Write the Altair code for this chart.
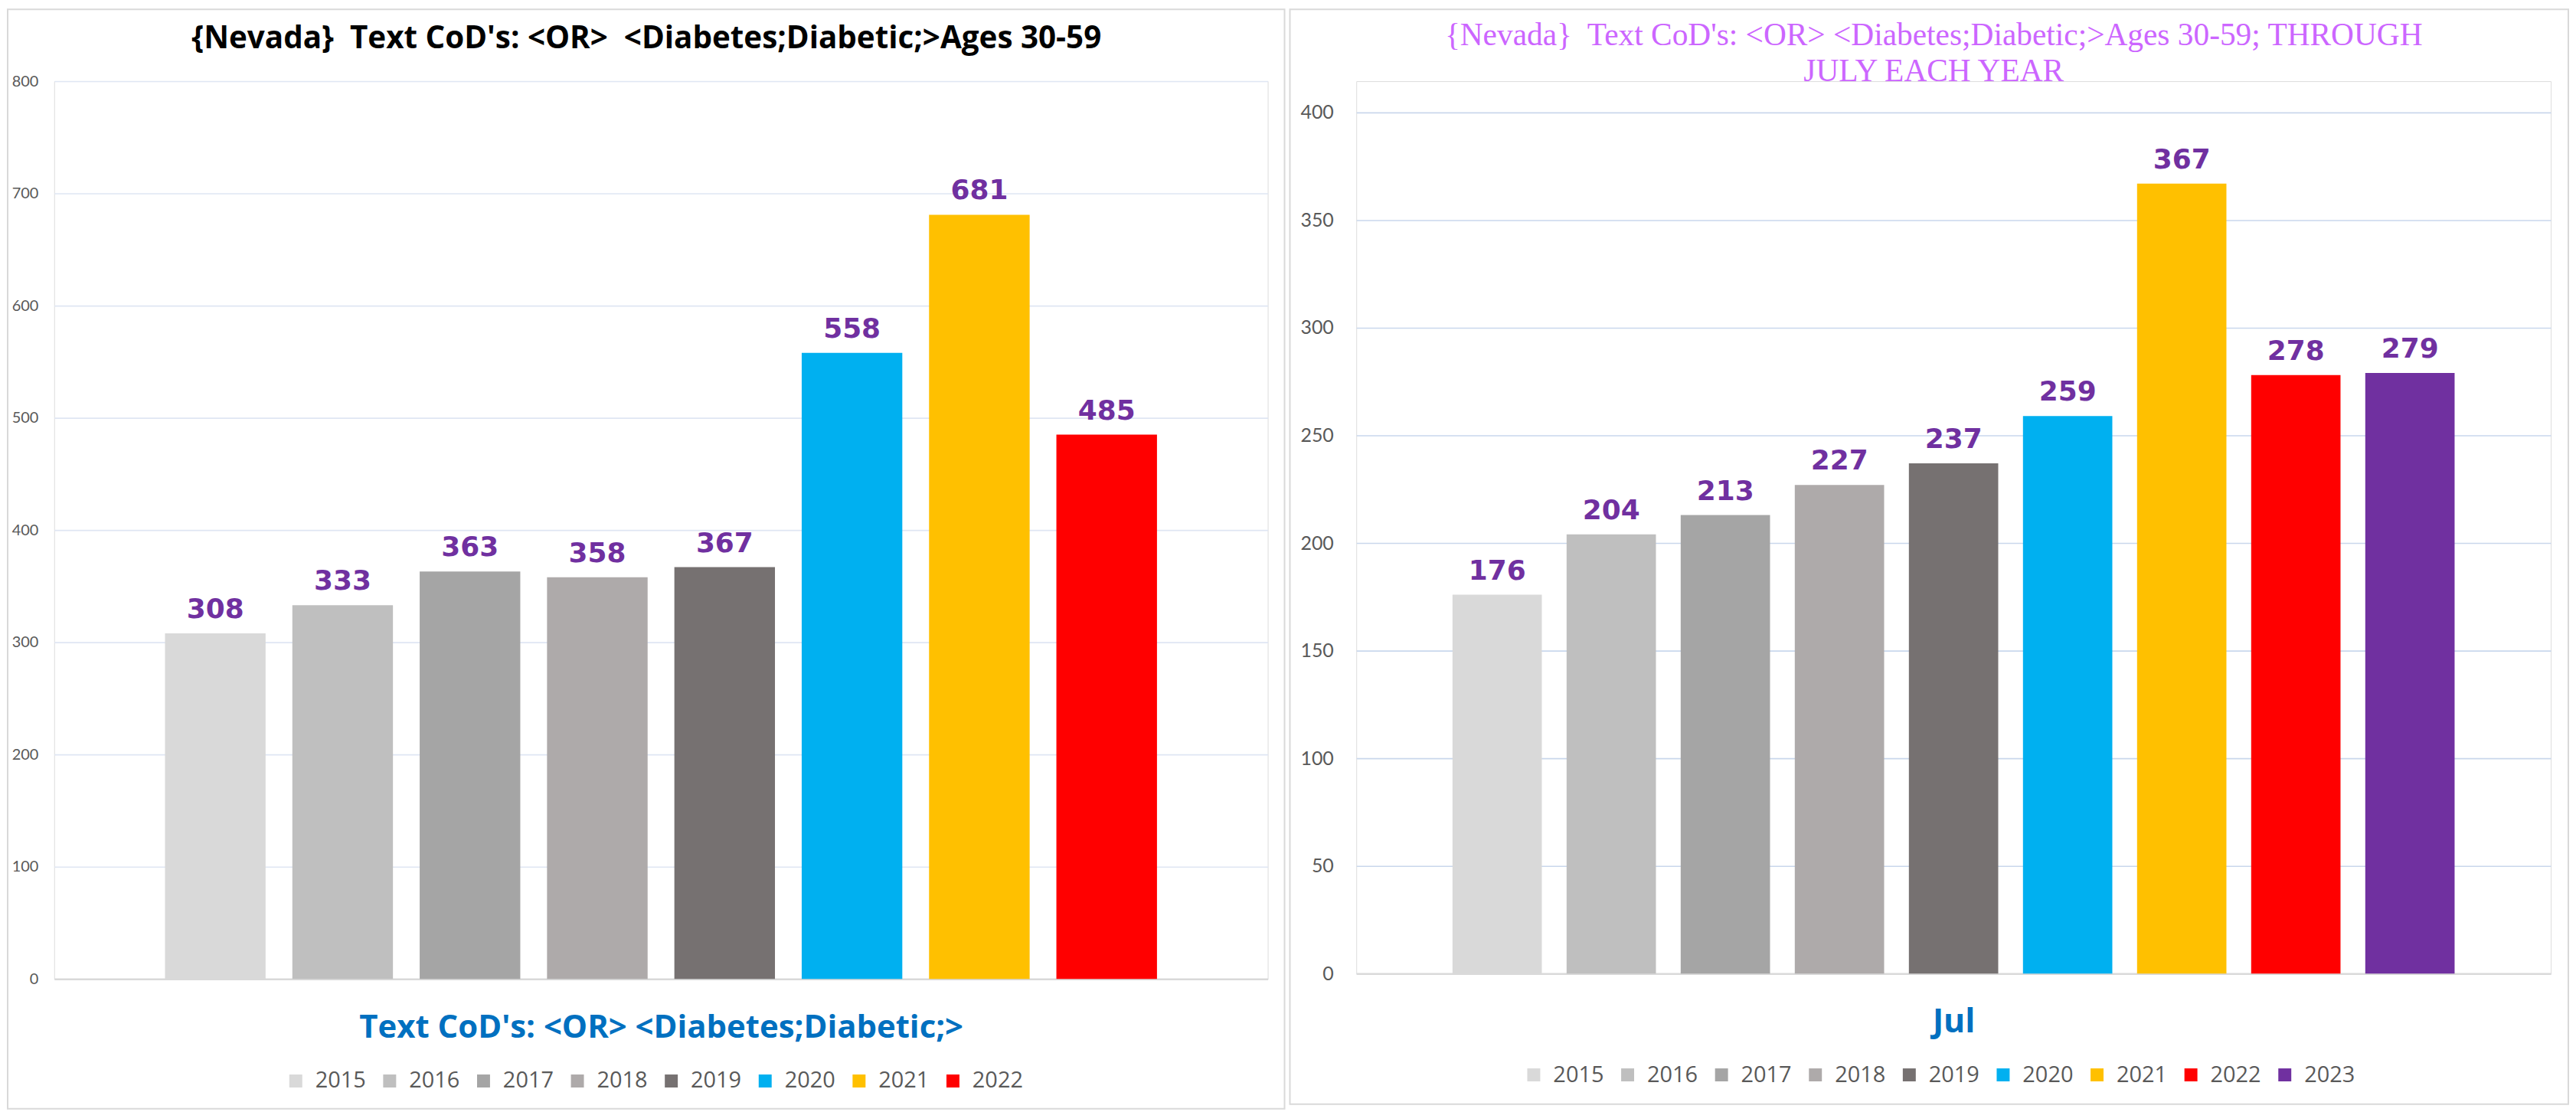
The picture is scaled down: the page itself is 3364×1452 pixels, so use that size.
import altair as alt
import pandas as pd

# ---------------- data ----------------
years_left = ["2015", "2016", "2017", "2018", "2019", "2020", "2021", "2022"]
values_left = [308, 333, 363, 358, 367, 558, 681, 485]

years_right = ["2015", "2016", "2017", "2018", "2019", "2020", "2021", "2022", "2023"]
values_right = [176, 204, 213, 227, 237, 259, 367, 278, 279]

year_colors = ["#D9D9D9", "#BFBFBF", "#A5A5A5", "#AEAAAA", "#767171",
               "#00B0F0", "#FFC000", "#FF0000", "#7030A0"]

title_left = "{Nevada}\u00a0 Text CoD's: <OR>\u00a0 <Diabetes;Diabetic;>Ages 30-59"
title_right = ["{Nevada}\u00a0 Text CoD's: <OR> <Diabetes;Diabetic;>Ages 30-59; THROUGH",
               "JULY EACH YEAR"]
xtitle_left = "Text CoD's: <OR> <Diabetes;Diabetic;>"
xtitle_right = "Jul"

ticks_left = [0, 100, 200, 300, 400, 500, 600, 700, 800]
ticks_right = [0, 50, 100, 150, 200, 250, 300, 350, 400]


def panel(years, values, ticks, xtitle, title, cfg):
    df = pd.DataFrame({"year": years, "value": values})
    base = alt.Chart(df)
    if cfg.get("yrange"):
        yscale = alt.Scale(domain=[ticks[0], ticks[-1]], nice=False, range=cfg["yrange"])
    else:
        yscale = alt.Scale(domain=[ticks[0], ticks[-1]], nice=False)

    x_enc = alt.X(
        "year:N",
        sort=years,
        scale=alt.Scale(paddingInner=cfg["pi"], paddingOuter=cfg["po"]),
        axis=alt.Axis(
            labels=False, ticks=False, grid=False,
            domain=True, domainColor="#D9D9D9", domainWidth=2.5,
            title=xtitle, titleFont="Open Sans", titleFontWeight="bold",
            titleFontSize=cfg["xt_size"], titleColor="#0070C0",
            titlePadding=cfg["xt_pad"],
        ),
    )
    y_enc = alt.Y(
        "value:Q",
        scale=yscale,
        axis=alt.Axis(
            values=ticks, grid=True, gridColor=cfg["grid"], gridWidth=1.6,
            ticks=False, domain=False, title=None,
            labelFont="Lato", labelFontSize=cfg["lab_size"], labelColor="#595959",
            labelPadding=cfg["lab_pad"],
        ),
    )

    border = alt.Chart(pd.DataFrame({"k": [0]})).mark_rect(
        filled=False, stroke="#D9D9D9", strokeWidth=2
    ).encode(
        x=alt.value(cfg["bx"][0]), x2=alt.value(cfg["bx"][1]),
        y=alt.value(cfg["by"][0]), y2=alt.value(cfg["by"][1]),
    )

    bars = base.mark_bar().encode(
        x=x_enc,
        y=y_enc,
        color=alt.Color(
            "year:N",
            scale=alt.Scale(domain=years, range=year_colors[:len(years)]),
            legend=alt.Legend(
                orient="none", legendX=cfg["lx"], legendY=cfg["ly"],
                direction="horizontal", title=None,
                symbolType="square", symbolSize=289, symbolStrokeWidth=0,
                labelFont="Open Sans", labelFontSize=29, labelColor="#595959",
                labelOffset=11, columnPadding=16,
            ),
        ),
    )

    labels = base.mark_text(
        baseline="alphabetic", dy=-20, font="DejaVu Sans", fontWeight="bold",
        fontSize=36, color="#7030A0",
    ).encode(
        x=alt.X("year:N", sort=years),
        y=alt.Y("value:Q"),
        text=alt.Text("value:Q"),
    )

    return alt.layer(border, bars, labels).properties(
        width=cfg["w"], height=cfg["h"], title=title
    )


left_cfg = dict(w=1590, h=1176, pi=0.21, po=0.87, grid="#DFE6F3",
                lab_size=20, lab_pad=21, xt_size=42, xt_pad=44,
                bx=(-61, 1612), by=(-94, 1346), lx=302, ly=1295)
right_cfg = dict(w=1565, h=1169, pi=0.217, po=0.843, grid="#C9D7EC",
                 yrange=[1169, 41],
                 lab_size=25, lab_pad=30, xt_size=43, xt_pad=43,
                 bx=(-87, 1588), by=(-94, 1340), lx=218, ly=1287)

left = panel(
    years_left, values_left, ticks_left, xtitle_left,
    alt.TitleParams(text=title_left, font="Open Sans", fontWeight="bold",
                    fontSize=40.5, color="#000000", anchor="middle",
                    frame="group", dx=-19, offset=-60),
    left_cfg,
)
right = panel(
    years_right, values_right, ticks_right, xtitle_right,
    alt.TitleParams(text=title_right, font="Liberation Serif", fontWeight="normal",
                    fontSize=41.5, color="#CC66FF", lineHeight=47, anchor="middle",
                    frame="group", dx=-26, offset=-103),
    right_cfg,
)

chart = alt.hconcat(left, right, spacing=3, padding=0).resolve_scale(
    x="independent", y="independent", color="independent"
).resolve_legend(color="independent").configure_view(stroke=None).configure(
    background="white"
)

chart.save("out.html", embed_options={"renderer": "svg", "actions": False})
